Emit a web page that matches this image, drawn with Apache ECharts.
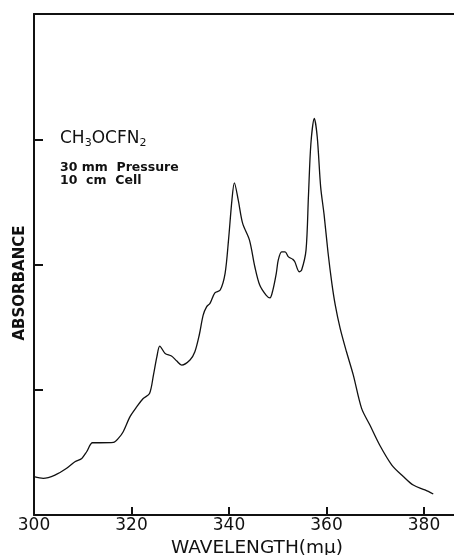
<!DOCTYPE html>
<html>
<head>
<meta charset="utf-8">
<script src="https://cdn.jsdelivr.net/npm/echarts@6/dist/echarts.min.js"></script>
<style>
  html, body { margin: 0; padding: 0; background: #fff; }
  #chart { width: 454px; height: 555px; }
</style>
</head>
<body>
<div id="chart"></div>
<script>
  // wavelength in m\u03bc, absorbance in chart units (0..4 between frame edges)
  const wavelength = [300.0, 301.9, 304.3, 306.7, 308.4, 309.8, 310.8, 312.0, 313.5, 316.3,
    317.3, 318.3, 319.7, 321.1, 322.4, 323.7, 324.5, 325.2, 325.8, 326.9,
    328.2, 329.3, 330.3, 332.0, 333.0, 333.9, 334.7, 335.4, 336.1, 337.1,
    338.2, 339.2, 339.9, 340.6, 341.1, 341.9, 342.8, 344.2, 345.3, 346.3,
    347.6, 348.4, 349.0, 349.7, 350.1, 350.8, 351.5, 352.2, 353.1, 353.5,
    354.4, 354.9, 355.8, 356.3, 356.8, 357.5, 358.1, 358.8, 359.5, 360.3,
    361.1, 361.8, 362.8, 364.1, 365.5, 367.2, 368.9, 370.9, 373.4, 375.8,
    377.8, 380.2, 381.9]
  const absorbance = [0.306, 0.293, 0.319, 0.373, 0.425, 0.452, 0.505, 0.577, 0.577, 0.580,
    0.612, 0.665, 0.785, 0.865, 0.930, 0.970, 1.117, 1.263, 1.349, 1.290,
    1.269, 1.229, 1.197, 1.237, 1.303, 1.437, 1.596, 1.662, 1.690, 1.774,
    1.796, 1.929, 2.195, 2.514, 2.652, 2.514, 2.328, 2.195, 1.982, 1.836,
    1.756, 1.734, 1.796, 1.929, 2.035, 2.101, 2.101, 2.061, 2.041, 2.022,
    1.942, 1.956, 2.115, 2.550, 2.966, 3.166, 3.019, 2.620, 2.400, 2.100,
    1.850, 1.676, 1.490, 1.303, 1.117, 0.851, 0.718, 0.559, 0.399, 0.306,
    0.239, 0.200, 0.168]
  const xTicks = [300, 320, 340, 360, 380]
  const yTicks = [1, 2, 3]

  const font = 'DejaVu Sans'
  const chart = echarts.init(document.getElementById('chart'))

  chart.setOption({
    animation: false,
    backgroundColor: '#fff',
    // the frame runs off the right edge of the picture
    grid: { left: 34, top: 14, right: -9, bottom: 40, outerBoundsMode: 'none', containLabel: false },
    xAxis: [
      {
        type: 'value',
        min: 300,
        max: 388,
        interval: 20,
        name: 'WAVELENGTH(m\u03bc)',
        nameLocation: 'middle',
        nameGap: 22,
        nameTextStyle: { color: '#111', fontFamily: font, fontSize: 18.5, padding: [0, 0, 0, 17] },
        axisLine: { lineStyle: { color: '#111', width: 2 } },
        axisTick: { inside: true, length: 8, customValues: xTicks, lineStyle: { color: '#111', width: 2 } },
        axisLabel: { color: '#111', fontFamily: font, fontSize: 17, margin: 2, customValues: xTicks },
        splitLine: { show: false }
      },
      {
        type: 'value',
        position: 'top',
        min: 300,
        max: 388,
        axisLine: { show: true, lineStyle: { color: '#111', width: 2 } },
        axisTick: { show: false },
        axisLabel: { show: false },
        splitLine: { show: false }
      }
    ],
    yAxis: {
      type: 'value',
      min: 0,
      max: 4,
      interval: 1,
      axisLine: { show: true, lineStyle: { color: '#111', width: 2 } },
      axisTick: { show: true, inside: true, length: 9, customValues: yTicks, lineStyle: { color: '#111', width: 2 } },
      axisLabel: { show: false },
      splitLine: { show: false }
    },
    graphic: [
      {
        type: 'text',
        x: 20,
        y: 283,
        rotation: Math.PI / 2,
        style: {
          text: 'ABSORBANCE',
          fill: '#111',
          font: 'bold 15px "DejaVu Sans"',
          align: 'center',
          verticalAlign: 'middle'
        }
      },
      {
        type: 'text',
        x: 60,
        y: 139,
        style: {
          text: 'CH{s|3}OCFN{s|2}',
          fill: '#111',
          font: '17px "DejaVu Sans"',
          verticalAlign: 'middle',
          rich: {
            s: { fontSize: 11, fontFamily: font, padding: [8, 0, 0, 0], fill: '#111' }
          }
        }
      },
      {
        type: 'text',
        x: 60,
        y: 161,
        style: {
          text: '30 mm  Pressure\n10  cm  Cell',
          fill: '#111',
          font: 'bold 12.5px "DejaVu Sans"',
          lineHeight: 13,
          verticalAlign: 'top'
        }
      }
    ],
    series: [
      {
        type: 'line',
        data: wavelength.map((w, i) => [w, absorbance[i]]),
        smooth: 0.3,
        symbol: 'none',
        lineStyle: { color: '#111', width: 1.3 }
      }
    ]
  })
</script>
</body>
</html>
